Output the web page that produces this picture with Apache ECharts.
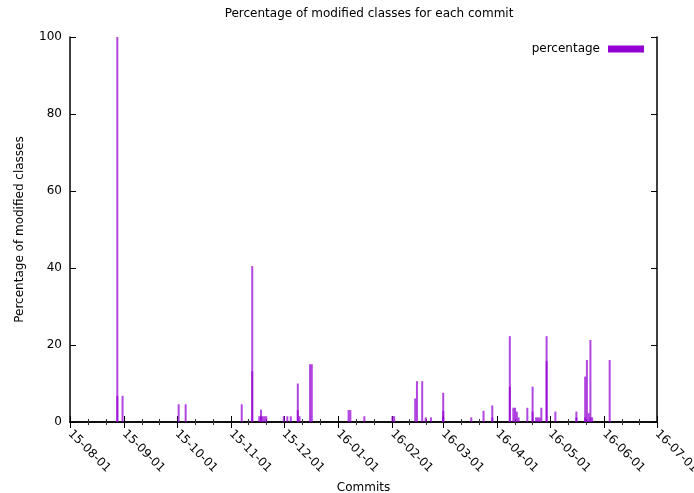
<!DOCTYPE html>
<html>
<head>
<meta charset="utf-8">
<script src="https://cdn.jsdelivr.net/npm/echarts@6/dist/echarts.min.js"></script>
<style>
html,body{margin:0;padding:0;background:#fff;}
#chart{width:694px;height:493px;}
</style>
</head>
<body>
<div id="chart"></div>
<script>
const commitDates = [
 '2015-08-28','2015-08-28','2015-08-31','2015-10-02','2015-10-06','2015-11-07',
 '2015-11-13','2015-11-13','2015-11-17','2015-11-18','2015-11-18','2015-11-19',
 '2015-11-20','2015-11-21','2015-12-01','2015-12-03','2015-12-05','2015-12-09',
 '2015-12-09','2015-12-10','2015-12-16','2015-12-17','2016-01-07','2016-01-08',
 '2016-01-16','2016-02-01','2016-02-02','2016-02-14','2016-02-15','2016-02-18',
 '2016-02-20','2016-02-23','2016-03-01','2016-03-01','2016-03-01','2016-03-17',
 '2016-03-24','2016-03-29','2016-03-29','2016-04-08','2016-04-08','2016-04-10',
 '2016-04-11','2016-04-12','2016-04-13','2016-04-18','2016-04-21','2016-04-21',
 '2016-04-23','2016-04-24','2016-04-25','2016-04-26','2016-04-29','2016-04-29',
 '2016-05-04','2016-05-16','2016-05-16','2016-05-21','2016-05-21','2016-05-22',
 '2016-05-23','2016-05-24','2016-05-24','2016-05-25','2016-06-04'
];
const percentages = [
 100, 6.8, 6.8, 4.6, 4.6, 4.6,
 40.5, 13.2, 1.5, 3.2, 1.5, 1.5,
 1.5, 1.5, 1.5, 1.5, 1.5, 10.0,
 3.1, 1.5, 15.0, 15.0, 3.1, 3.1,
 1.5, 1.5, 1.5, 6.1, 10.6, 10.6,
 1.2, 1.2, 7.6, 2.9, 1.2, 1.2,
 2.9, 4.3, 1.2, 22.3, 9.2, 3.7,
 3.7, 2.7, 1.2, 3.7, 9.2, 2.7,
 1.2, 1.2, 1.2, 3.7, 22.3, 15.8,
 2.7, 2.7, 1.2, 11.8, 1.2, 16.1,
 2.3, 21.3, 1.2, 1.2, 16.1
];
const xMin = '2015-08-01';
const xMax = '2016-07-01';
const yTicks = [0, 20, 40, 60, 80, 100];

const DAY = 86400000;
const toUTC = d => Date.parse(d + 'T00:00:00Z');
const seriesData = commitDates.map((d, i) => [toUTC(d), percentages[i]]);
const FONT = 'DejaVu Sans';
const COLOR = '#9400D3';
const chart = echarts.init(document.getElementById('chart'));
const axisLine = {show: true, lineStyle: {color: '#000', width: 1.5}};
const tick = {show: true, inside: true, length: 6, lineStyle: {color: '#000', width: 1}};
const minor = {show: true, splitNumber: 3, length: 3, lineStyle: {color: '#333', width: 1}};
chart.setOption({
  animation: false,
  useUTC: true,
  textStyle: {fontFamily: FONT},
  title: {
    text: 'Percentage of modified classes for each commit',
    left: 364, top: 3, textAlign: 'center',
    textStyle: {fontSize: 12, fontWeight: 'normal', color: '#000', fontFamily: FONT}
  },
  legend: {
    right: 45, top: 38, align: 'right', icon: 'rect',
    itemWidth: 36, itemHeight: 7, itemGap: 8,
    itemStyle: {opacity: 1, color: COLOR},
    textStyle: {fontSize: 12, color: '#000', fontFamily: FONT, padding: [0, 3, 0, 0]},
    data: ['percentage']
  },
  grid: {left: 70, right: 37, top: 37, bottom: 71, outerBoundsMode: 'none', containLabel: false},
  xAxis: [{
    type: 'time', min: toUTC(xMin), max: toUTC(xMax), splitNumber: 12,
    axisLine: axisLine, axisTick: tick, minorTick: minor,
    splitLine: {show: false},
    axisLabel: {
      rotate: -45, margin: 10, fontSize: 12, color: '#000', fontFamily: FONT,
      hideOverlap: false, showMinLabel: true, showMaxLabel: true,
      formatter: v => echarts.time.format(Math.round(v / DAY) * DAY, '{yy}-{MM}-{dd}', true)
    },
    name: 'Commits', nameLocation: 'middle', nameGap: 56,
    nameTextStyle: {fontSize: 12, color: '#000', fontFamily: FONT}
  }, {
    type: 'time', min: toUTC(xMin), max: toUTC(xMax), splitNumber: 12, position: 'top',
    axisLine: axisLine, axisTick: tick, minorTick: minor,
    splitLine: {show: false}, axisLabel: {show: false}
  }],
  yAxis: [{
    type: 'value', min: yTicks[0], max: yTicks[yTicks.length - 1],
    interval: yTicks[1] - yTicks[0],
    axisLine: axisLine, axisTick: tick,
    splitLine: {show: false},
    axisLabel: {fontSize: 12, color: '#000', margin: 8, fontFamily: FONT},
    name: 'Percentage of modified classes', nameLocation: 'middle', nameGap: 44,
    nameTextStyle: {fontSize: 12, color: '#000', fontFamily: FONT}
  }, {
    type: 'value', min: yTicks[0], max: yTicks[yTicks.length - 1],
    interval: yTicks[1] - yTicks[0], position: 'right',
    axisLine: axisLine, axisTick: tick,
    splitLine: {show: false}, axisLabel: {show: false}
  }],
  series: [{
    name: 'percentage', type: 'custom', xAxisIndex: 0, yAxisIndex: 0,
    data: seriesData,
    itemStyle: {color: COLOR},
    encode: {x: 0, y: 1},
    renderItem: function (params, api) {
      const base = api.coord([api.value(0), 0]);
      const top = api.coord([api.value(0), api.value(1)]);
      return {
        type: 'rect',
        shape: {x: base[0] - 1, y: top[1], width: 2, height: base[1] - top[1]},
        style: {fill: COLOR, opacity: 0.72}
      };
    }
  }]
});
</script>
</body>
</html>
